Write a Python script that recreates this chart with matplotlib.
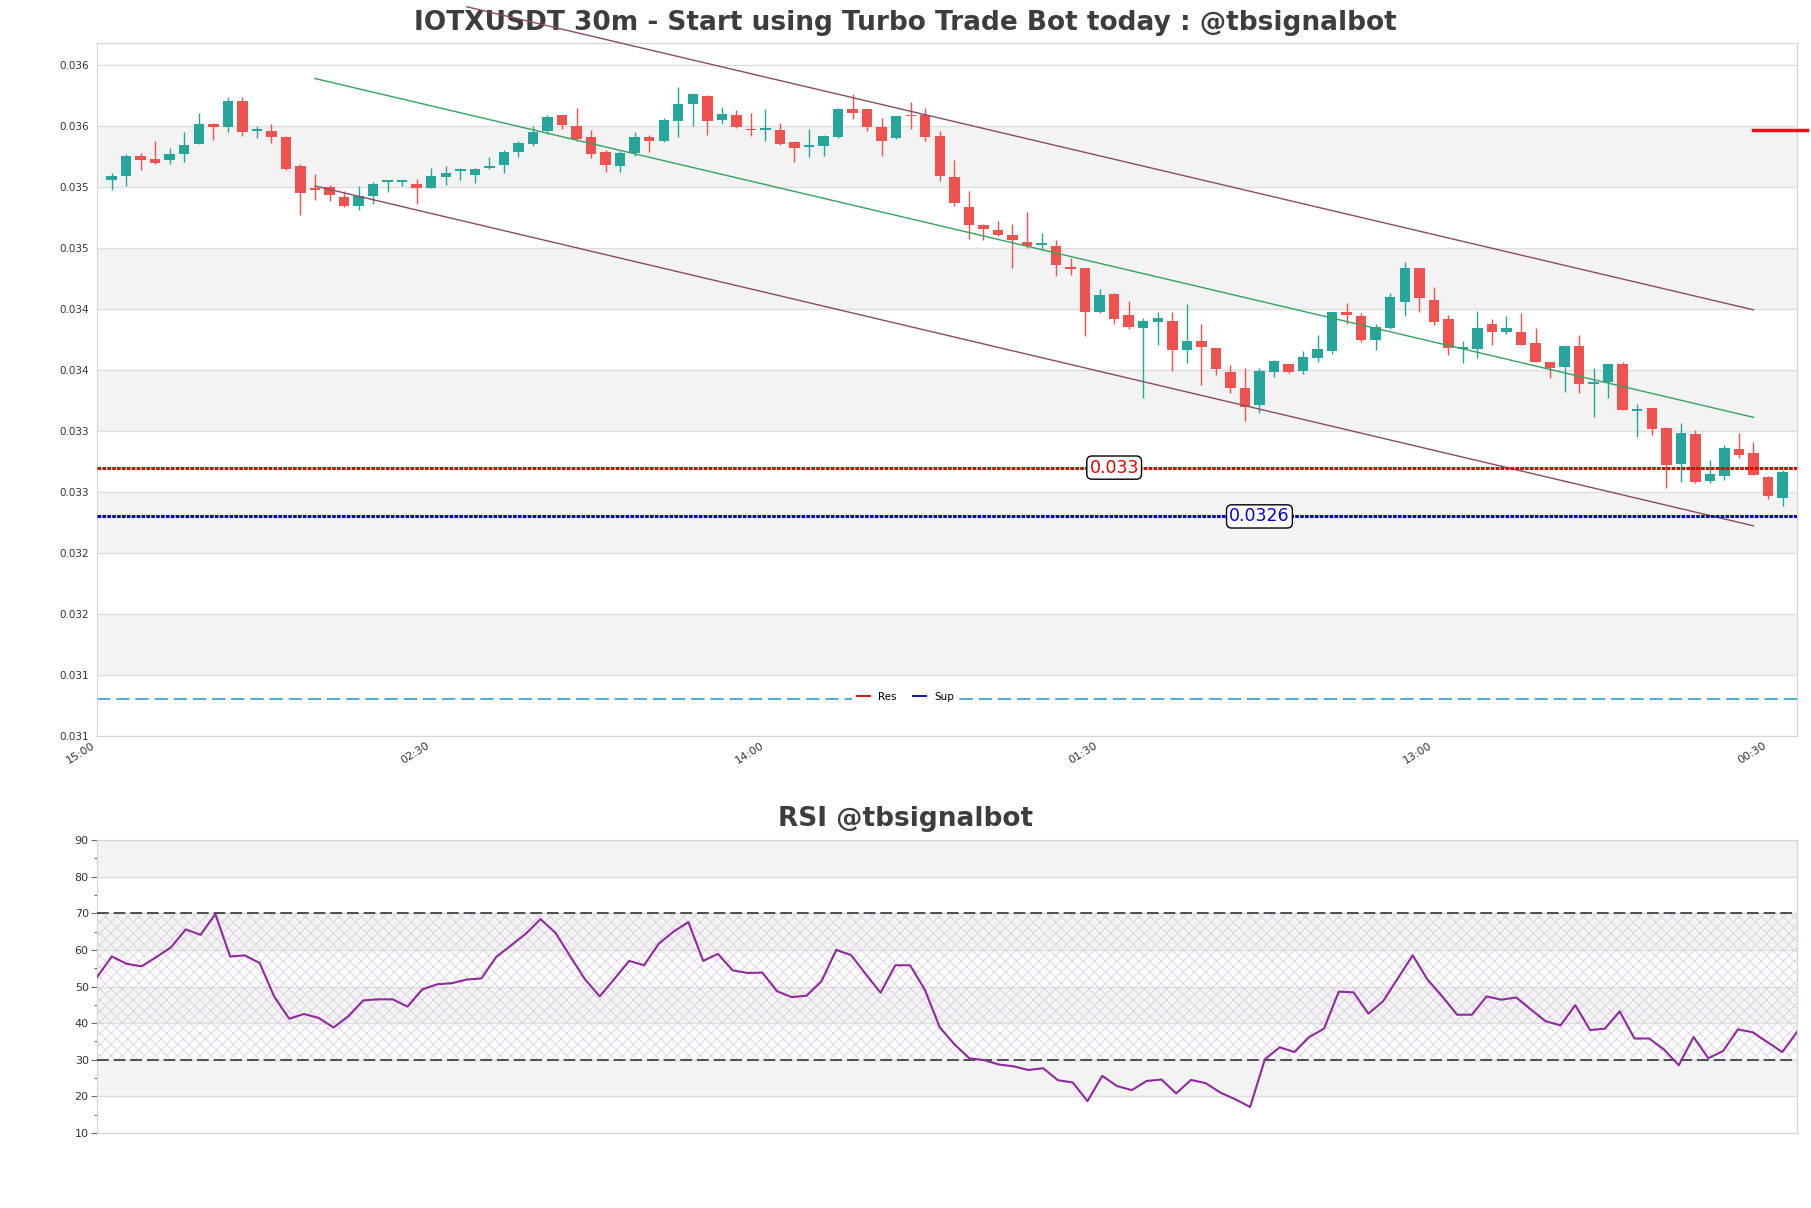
import matplotlib
matplotlib.use("Agg")
import matplotlib.pyplot as plt
import numpy as np
from matplotlib.lines import Line2D
from matplotlib.ticker import FormatStrFormatter, MultipleLocator

# 30m candles
opens = [
    0.035360, 0.035387, 0.035557, 0.035530, 0.035519, 0.035568, 0.035655, 0.035819, 0.035789, 0.036008,
    0.035756, 0.035762, 0.035713, 0.035475, 0.035295, 0.035300, 0.035218, 0.035142, 0.035223, 0.035344,
    0.035344, 0.035327, 0.035295, 0.035379, 0.035431, 0.035402, 0.035453, 0.035478, 0.035584, 0.035655,
    0.035762, 0.035887, 0.035803, 0.035707, 0.035584, 0.035469, 0.035579, 0.035713, 0.035674, 0.035838,
    0.035983, 0.036047, 0.035845, 0.035891, 0.035774, 0.035771, 0.035769, 0.035671, 0.035624, 0.035632,
    0.035706, 0.035938, 0.035938, 0.035790, 0.035698, 0.035886, 0.035886, 0.035720, 0.035384, 0.035139,
    0.034992, 0.034951, 0.034910, 0.034853, 0.034823, 0.034820, 0.034638, 0.034638, 0.034274, 0.034420,
    0.034250, 0.034142, 0.034196, 0.034204, 0.033964, 0.034040, 0.033978, 0.033781, 0.033650, 0.033513,
    0.033781, 0.033846, 0.033792, 0.033896, 0.033956, 0.034273, 0.034243, 0.034046, 0.034145, 0.034357,
    0.034632, 0.034371, 0.034220, 0.033972, 0.033972, 0.034174, 0.034114, 0.034114, 0.034019, 0.033863,
    0.033827, 0.033999, 0.033685, 0.033699, 0.033846, 0.033464, 0.033486, 0.033322, 0.033029, 0.033273,
    0.032890, 0.032934, 0.033152, 0.033117, 0.032926, 0.032748]
highs = [
    0.035412, 0.035570, 0.035579, 0.035680, 0.035620, 0.035751, 0.035907, 0.035825, 0.036038, 0.036038,
    0.035800, 0.035816, 0.035718, 0.035486, 0.035409, 0.035314, 0.035264, 0.035311, 0.035338, 0.035360,
    0.035360, 0.035368, 0.035458, 0.035475, 0.035456, 0.035458, 0.035549, 0.035606, 0.035674, 0.035797,
    0.035893, 0.035893, 0.035950, 0.035770, 0.035606, 0.035598, 0.035754, 0.035729, 0.035863, 0.036120,
    0.036070, 0.036050, 0.035954, 0.035932, 0.035910, 0.035940, 0.035823, 0.035676, 0.035774, 0.035722,
    0.035946, 0.036063, 0.035940, 0.035864, 0.035885, 0.036000, 0.035946, 0.035760, 0.035523, 0.035270,
    0.034995, 0.035022, 0.035000, 0.035098, 0.034919, 0.034869, 0.034720, 0.034640, 0.034461, 0.034428,
    0.034365, 0.034229, 0.034278, 0.034278, 0.034338, 0.034174, 0.033980, 0.033841, 0.033819, 0.033814,
    0.033882, 0.033848, 0.033956, 0.034087, 0.034275, 0.034346, 0.034264, 0.034174, 0.034428, 0.034684,
    0.034638, 0.034483, 0.034248, 0.034038, 0.034280, 0.034220, 0.034245, 0.034265, 0.034147, 0.033865,
    0.034005, 0.034087, 0.033819, 0.033848, 0.033863, 0.033519, 0.033488, 0.033336, 0.033363, 0.033308,
    0.033062, 0.033185, 0.033281, 0.033207, 0.032928, 0.032980]
lows = [
    0.035273, 0.035305, 0.035437, 0.035490, 0.035489, 0.035502, 0.035650, 0.035683, 0.035748, 0.035715,
    0.035702, 0.035658, 0.035437, 0.035068, 0.035196, 0.035183, 0.035140, 0.035109, 0.035163, 0.035256,
    0.035305, 0.035158, 0.035292, 0.035319, 0.035355, 0.035336, 0.035450, 0.035412, 0.035546, 0.035633,
    0.035734, 0.035773, 0.035674, 0.035540, 0.035426, 0.035426, 0.035551, 0.035584, 0.035666, 0.035707,
    0.035803, 0.035728, 0.035818, 0.035785, 0.035714, 0.035673, 0.035643, 0.035502, 0.035545, 0.035551,
    0.035698, 0.035859, 0.035755, 0.035551, 0.035695, 0.035774, 0.035673, 0.035346, 0.035142, 0.034875,
    0.034864, 0.034902, 0.034635, 0.034801, 0.034788, 0.034570, 0.034578, 0.034081, 0.034270, 0.034180,
    0.034140, 0.033573, 0.034005, 0.033792, 0.033855, 0.033677, 0.033759, 0.033609, 0.033382, 0.033445,
    0.033740, 0.033773, 0.033764, 0.033868, 0.033928, 0.034174, 0.034027, 0.033964, 0.034134, 0.034243,
    0.034275, 0.034170, 0.033923, 0.033860, 0.033901, 0.034005, 0.034092, 0.034003, 0.033866, 0.033732,
    0.033617, 0.033609, 0.033417, 0.033573, 0.033470, 0.033254, 0.033267, 0.032836, 0.032879, 0.032877,
    0.032871, 0.032898, 0.033081, 0.032937, 0.032743, 0.032688]
closes = [
    0.035393, 0.035557, 0.035519, 0.035494, 0.035573, 0.035647, 0.035819, 0.035789, 0.036008, 0.035748,
    0.035762, 0.035707, 0.035450, 0.035248, 0.035273, 0.035232, 0.035142, 0.035223, 0.035327, 0.035349,
    0.035349, 0.035289, 0.035393, 0.035417, 0.035437, 0.035450, 0.035458, 0.035590, 0.035663, 0.035754,
    0.035871, 0.035805, 0.035693, 0.035573, 0.035478, 0.035579, 0.035713, 0.035674, 0.035852, 0.035983,
    0.036065, 0.035837, 0.035899, 0.035788, 0.035763, 0.035777, 0.035654, 0.035616, 0.035630, 0.035720,
    0.035940, 0.035905, 0.035788, 0.035673, 0.035883, 0.035878, 0.035706, 0.035387, 0.035166, 0.034987,
    0.034954, 0.034905, 0.034864, 0.034815, 0.034829, 0.034660, 0.034627, 0.034274, 0.034412, 0.034221,
    0.034150, 0.034204, 0.034223, 0.033964, 0.034040, 0.033986, 0.033805, 0.033650, 0.033497, 0.033792,
    0.033874, 0.033786, 0.033904, 0.033972, 0.034273, 0.034251, 0.034046, 0.034155, 0.034398, 0.034632,
    0.034390, 0.034194, 0.033978, 0.033978, 0.034147, 0.034109, 0.034142, 0.034005, 0.033868, 0.033819,
    0.033999, 0.033683, 0.033696, 0.033846, 0.033472, 0.033475, 0.033316, 0.033021, 0.033281, 0.032879,
    0.032945, 0.033158, 0.033103, 0.032939, 0.032767, 0.032961]

rsi = [
    52.6, 58.2, 56.2, 55.5, 58.0, 60.7, 65.6, 64.1, 69.8, 58.2,
    58.5, 56.4, 47.1, 41.2, 42.5, 41.4, 38.8, 41.9, 46.2, 46.5,
    46.5, 44.5, 49.2, 50.6, 50.9, 51.9, 52.2, 58.1, 61.2, 64.4,
    68.4, 64.7, 58.3, 52.0, 47.3, 52.1, 57.0, 55.8, 61.7, 65.0,
    67.6, 57.0, 58.9, 54.4, 53.7, 53.8, 48.7, 47.1, 47.5, 51.4,
    60.0, 58.6, 53.4, 48.3, 55.8, 55.8, 49.1, 38.9, 34.2, 30.4,
    29.9, 28.7, 28.2, 27.2, 27.7, 24.4, 23.8, 18.7, 25.6, 22.8,
    21.7, 24.2, 24.6, 20.8, 24.5, 23.6, 21.0, 19.2, 17.1, 30.1,
    33.4, 32.1, 36.2, 38.5, 48.6, 48.4, 42.6, 46.0, 52.3, 58.5,
    51.9, 47.3, 42.3, 42.3, 47.3, 46.4, 47.0, 43.7, 40.5, 39.4,
    44.9, 38.1, 38.5, 43.2, 35.8, 35.8, 32.8, 28.5, 36.2, 30.4,
    32.4, 38.3, 37.5, 34.8, 32.1, 37.6]

time_labels = ["15:00", "02:30", "14:00", "01:30", "13:00", "00:30"]

res_level = 0.0330
sup_level = 0.0326
dash_level = 0.0311
last_level = 0.03577

# regression channel: start/end candle and prices
chan_x = [15, 114]
chan_mid = [0.036189, 0.033412]
chan_lower = [0.035308, 0.032523]
upper_x = [25.45, 114]
chan_upper = [0.036777, 0.034293]

UP = '#26a69a'
DOWN = '#ef5350'
BAND = '#f3f3f3'
GRID = '#dedede'
SPINE = '#d4d4d4'

plt.rcParams['hatch.linewidth'] = 0.5

fig = plt.figure(figsize=(18.11, 12.08), dpi=100)
ax = fig.add_axes([0.0536, 0.3907, 0.9387, 0.5737])
ax2 = fig.add_axes([0.0536, 0.0621, 0.9387, 0.2425])

# ---------- price panel ----------
n = len(closes)
x = np.arange(1, n + 1)
o = np.array(opens)
c = np.array(closes)
ax.set_xlim(0, n + 1)
ax.set_ylim(0.0308, 0.03648)
yt = 0.0308 + 0.0005 * np.arange(12)
ax.set_yticks(yt)
ax.yaxis.set_major_formatter(FormatStrFormatter('%.3f'))
for k in range(1, 11, 2):
    ax.axhspan(yt[k], yt[k + 1], color=BAND, lw=0, zorder=0)
ax.grid(axis='y', color=GRID, lw=1)
ax.set_axisbelow(True)

cols = np.where(c >= o, UP, DOWN)
ax.vlines(x, lows, highs, colors=cols, lw=1, zorder=3)
body = np.maximum(np.abs(c - o), 0.000016)
ax.bar(x, body, bottom=np.minimum(o, c), width=0.72, color=cols, lw=0, zorder=4)

ax.plot(upper_x, chan_upper, color='#8a4a66', lw=1, clip_on=False, zorder=5)
ax.plot(chan_x, chan_lower, color='#8a4a66', lw=1, clip_on=False, zorder=5)
ax.plot(chan_x, chan_mid, color='#33a35e', lw=1, clip_on=False, zorder=5)

ax.axhline(res_level, color='#e00000', lw=2.2, dashes=(1.2, 0.4), zorder=5)
ax.axhline(sup_level, color='#0000d0', lw=2.2, dashes=(1.2, 0.4), zorder=5)
ax.axhline(dash_level, color='#2b9fd2', lw=1.2, dashes=(8, 3.5), zorder=2)
ax.plot([chan_x[1], n + 1.7], [last_level, last_level], color='#e8101a', lw=2.5,
        clip_on=False, zorder=6)

box = dict(boxstyle='round,pad=0.15,rounding_size=0.3', fc='white', ec='black', lw=1)
ax.text(70, res_level, '{:g}'.format(res_level), color='#e00000', fontsize=12.5,
        ha='center', va='center', bbox=box, zorder=7)
ax.text(80, sup_level, '{:g}'.format(sup_level), color='#0000d0', fontsize=12.5,
        ha='center', va='center', bbox=box, zorder=7)

ax.set_xticks(np.arange(0, n, 23))
ax.set_xticklabels(time_labels, rotation=32, ha='right')
ax.tick_params(length=0, labelsize=7.5, colors='#333333', pad=6)
ax.tick_params(axis='x', labelsize=8, pad=3)
for s in ax.spines.values():
    s.set_color(SPINE)

ax.text(0.5, 1 - 23 / 1208, 'IOTXUSDT 30m - Start using Turbo Trade Bot today : @tbsignalbot',
        transform=fig.transFigure, ha='center', va='center', fontsize=19,
        fontweight='bold', color='#3d3d3d', zorder=1)

handles = [Line2D([], [], color='#d42020', lw=1.5), Line2D([], [], color='#1a1a9c', lw=1.5)]
leg = fig.legend(handles, ['Res', 'Sup'], loc='center', bbox_to_anchor=(0.5, 0.4234),
                 ncol=2, fontsize=7.5, frameon=True, handlelength=1.2, columnspacing=1.6,
                 borderpad=0.5)
leg.get_frame().set_edgecolor('none')
leg.get_frame().set_facecolor('white')
leg.get_frame().set_alpha(1)

# ---------- RSI panel ----------
k = np.arange(len(rsi))
ax2.set_xlim(0, len(rsi) - 1)
ax2.set_ylim(10, 90)
for lo, hi in [(20, 30), (40, 50), (60, 70), (80, 90)]:
    ax2.axhspan(lo, hi, color=BAND, lw=0, zorder=0)
ax2.fill_between([0, len(rsi) - 1], 30, 70, facecolor='none', hatch='xxx',
                 edgecolor='#d6c8de', lw=0, zorder=1)
ax2.grid(axis='y', color=GRID, lw=1)
ax2.set_axisbelow(True)
ax2.axhline(70, color='#333333', lw=1.2, dashes=(7, 3), zorder=3)
ax2.axhline(30, color='#333333', lw=1.2, dashes=(7, 3), zorder=3)
ax2.plot(k, rsi, color='#8e2a9c', lw=1.5, zorder=4)
ax2.set_yticks(range(10, 91, 10))
ax2.yaxis.set_minor_locator(MultipleLocator(5))
ax2.set_xticks([])
ax2.tick_params(axis='y', length=4, width=0.8, color='#666666', labelsize=8,
                labelcolor='#333333', pad=2)
ax2.tick_params(axis='y', which='minor', length=2, width=0.8, color='#666666')
for s in ax2.spines.values():
    s.set_color(SPINE)

fig.text(0.5, 1 - 819 / 1208, 'RSI @tbsignalbot', ha='center', va='center',
         fontsize=19, fontweight='bold', color='#3d3d3d')

fig.savefig('out.png', dpi=100)
